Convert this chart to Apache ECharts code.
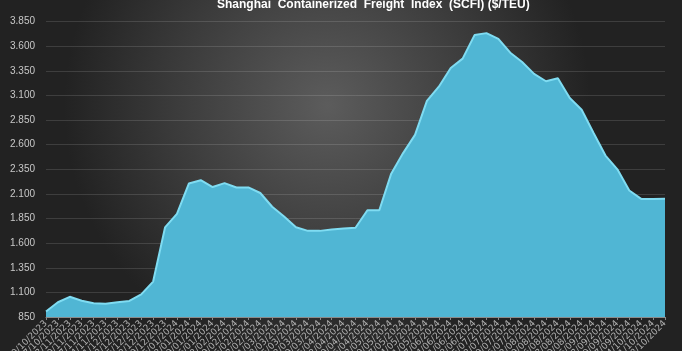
<!DOCTYPE html>
<html>
<head>
<meta charset="utf-8">
<script src="https://cdn.jsdelivr.net/npm/echarts@6/dist/echarts.min.js"></script>
<style>
  html, body { margin: 0; padding: 0; background: #2a2a2a; }
  #chart { width: 682px; height: 351px; }
</style>
</head>
<body>
<div id="chart"></div>
<script>
// weekly SCFI readings
const dates = [
  '20/10/2023', '27/10/2023', '03/11/2023', '10/11/2023', '17/11/2023', '24/11/2023',
  '01/12/2023', '08/12/2023', '15/12/2023', '22/12/2023', '29/12/2023',
  '05/01/2024', '12/01/2024', '19/01/2024', '26/01/2024',
  '02/02/2024', '09/02/2024', '16/02/2024', '23/02/2024',
  '01/03/2024', '08/03/2024', '15/03/2024', '22/03/2024', '29/03/2024',
  '05/04/2024', '12/04/2024', '19/04/2024', '26/04/2024',
  '03/05/2024', '10/05/2024', '17/05/2024', '24/05/2024', '31/05/2024',
  '07/06/2024', '14/06/2024', '21/06/2024', '28/06/2024',
  '05/07/2024', '12/07/2024', '19/07/2024', '26/07/2024',
  '02/08/2024', '09/08/2024', '16/08/2024', '23/08/2024', '30/08/2024',
  '06/09/2024', '13/09/2024', '20/09/2024', '27/09/2024',
  '04/10/2024', '11/10/2024', '18/10/2024'
]
const scfi = [
  905, 1000, 1055, 1015, 990, 985,
  1000, 1013, 1080, 1210, 1760,
  1897, 2206, 2240, 2170,
  2210, 2166, 2166, 2110,
  1970, 1870, 1762, 1725, 1725,
  1738, 1748, 1757, 1935,
  1935, 2306, 2515, 2700, 3045,
  3190, 3380, 3475, 3714,
  3734, 3675, 3535, 3440,
  3320, 3245, 3275, 3075, 2955,
  2720, 2490, 2350, 2135,
  2050, 2050, 2052
]
const yMin = 850
const yMax = 3850
const yStep = 250

const chart = echarts.init(document.getElementById('chart'))
chart.setOption({
  animation: false,
  backgroundColor: {
    type: 'radial', x: 0.48, y: 0.3, r: 0.75,
    colorStops: [
      { offset: 0, color: '#5c5c5c' },
      { offset: 0.6, color: '#3a3a3a' },
      { offset: 1, color: '#222222' }
    ]
  },
  title: {
    text: 'Shanghai  Containerized  Freight  Index  (SCFI) ($/TEU)',
    left: 212,
    top: -6,
    textStyle: {
      color: '#ffffff',
      fontFamily: 'Liberation Sans',
      fontWeight: 'bold',
      fontSize: 12
    }
  },
  grid: { left: 46, right: 17, top: 21.7, bottom: 34, containLabel: false, outerBoundsMode: 'none' },
  xAxis: {
    type: 'category',
    data: dates,
    boundaryGap: false,
    axisLine: { lineStyle: { color: '#8a8a8a', width: 1 } },
    axisTick: { show: true, interval: 0, length: 3, lineStyle: { color: '#8a8a8a' } },
    axisLabel: {
      interval: 0,
      rotate: 45,
      margin: 5,
      color: '#b0b0b0',
      fontSize: 9,
      fontFamily: 'DejaVu Sans'
    },
    splitLine: { show: false }
  },
  yAxis: {
    type: 'value',
    min: yMin,
    max: yMax,
    interval: yStep,
    axisLine: { show: false },
    axisTick: { show: false },
    axisLabel: {
      margin: 11,
      color: '#c8c8c8',
      fontSize: 10,
      fontFamily: 'Liberation Sans',
      formatter: v => String(v).replace(/\B(?=(\d{3})+(?!\d))/g, '.')
    },
    splitLine: { lineStyle: { color: 'rgba(255,255,255,0.13)', width: 1 } }
  },
  series: [{
    type: 'line',
    data: scfi,
    symbol: 'none',
    smooth: false,
    lineStyle: { color: '#7fdcf2', width: 2 },
    areaStyle: { color: '#50b6d4', opacity: 1 },
    z: 3
  }]
})
</script>
</body>
</html>
